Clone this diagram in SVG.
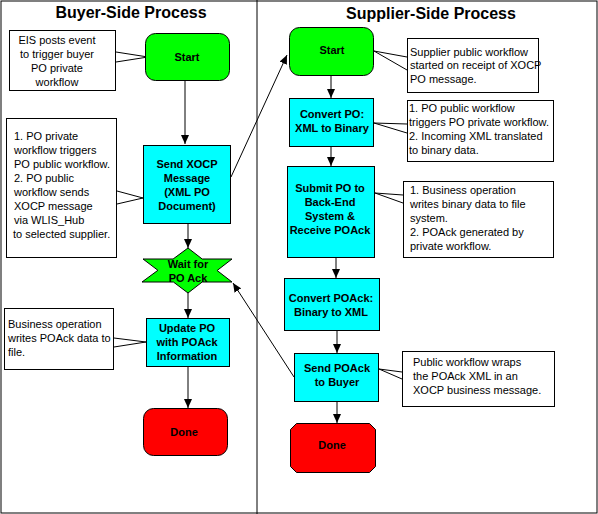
<svg xmlns="http://www.w3.org/2000/svg" width="598" height="514" viewBox="0 0 598 514">
<style>
.t{font-family:"Liberation Sans",Arial,sans-serif;font-size:16px;font-weight:bold;text-anchor:middle;fill:#000}
.b{font-family:"Liberation Sans",Arial,sans-serif;font-size:11px;font-weight:bold;text-anchor:middle;fill:#000}
.n{font-family:"Liberation Sans",Arial,sans-serif;font-size:11px;fill:#000}
.nc{font-family:"Liberation Sans",Arial,sans-serif;font-size:11px;fill:#000;text-anchor:middle}
.box{fill:#fff;stroke:#000;stroke-width:1}
.g{fill:#00ff00;stroke:#000;stroke-width:1}
.c{fill:#00ffff;stroke:#000;stroke-width:1}
.r{fill:#ff0000;stroke:#000;stroke-width:1}
.ln{fill:none;stroke:#000;stroke-width:1}
.ar{fill:none;stroke:#000;stroke-width:1;marker-end:url(#ah)}
</style>
<defs>
<marker id="ah" markerUnits="userSpaceOnUse" markerWidth="10" markerHeight="8" refX="9" refY="4" orient="auto">
<path d="M0,0 L9,4 L0,8 z" fill="#000"/>
</marker>
</defs>
<rect x="0" y="0" width="598" height="514" fill="#fff"/>
<rect x="1" y="1" width="596" height="512" class="ln"/>
<line x1="257" y1="0" x2="257" y2="514" class="ln"/>
<text class="t" x="131" y="18">Buyer-Side Process</text>
<text class="t" x="431" y="19">Supplier-Side Process</text>

<g id="connectors">
<line class="ar" x1="185" y1="81" x2="185" y2="144"/>
<line class="ar" x1="188" y1="224" x2="188" y2="248"/>
<line class="ar" x1="188" y1="293" x2="188" y2="318"/>
<line class="ar" x1="188" y1="367" x2="188" y2="408"/>
<line class="ar" x1="231" y1="177" x2="287" y2="55"/>
<line class="ar" x1="331" y1="76" x2="331" y2="98"/>
<line class="ar" x1="331" y1="146" x2="331" y2="166"/>
<line class="ar" x1="336" y1="257" x2="336" y2="278"/>
<line class="ar" x1="337" y1="330" x2="337" y2="353"/>
<line class="ar" x1="337" y1="401" x2="337" y2="423"/>
<line class="ar" x1="294" y1="377" x2="233" y2="283"/>
</g>

<g id="note-eis">
<rect class="box" x="9.5" y="30.5" width="106" height="60"/>
<polyline class="ln" points="116,52 148,57 116,62"/>
<text class="nc" x="57" y="44">EIS posts event</text>
<text class="nc" x="57" y="58">to trigger buyer</text>
<text class="nc" x="57" y="72">PO private</text>
<text class="nc" x="57" y="86">workflow</text>
</g>

<g id="buyer-start">
<rect class="g" x="145.5" y="33.5" width="84" height="47" rx="10"/>
<text class="b" x="187" y="61">Start</text>
</g>

<g id="note-send">
<rect class="box" x="6.5" y="118.5" width="110" height="139"/>
<polyline class="ln" points="117,191 143,198 117,204"/>
<text class="n" x="14" y="140">1. PO private</text>
<text class="n" x="14" y="154">workflow triggers</text>
<text class="n" x="14" y="168">PO public workflow.</text>
<text class="n" x="14" y="182">2. PO public</text>
<text class="n" x="14" y="196">workflow sends</text>
<text class="n" x="14" y="210">XOCP message</text>
<text class="n" x="14" y="224">via WLIS_Hub</text>
<text class="n" x="13" y="238">to selected supplier.</text>
</g>

<g id="send-xocp">
<rect class="c" x="143.5" y="145.5" width="87" height="78"/>
<text class="b" x="187" y="168">Send XOCP</text>
<text class="b" x="187" y="182">Message</text>
<text class="b" x="187" y="196">(XML PO</text>
<text class="b" x="187" y="210">Document)</text>
</g>

<g id="wait">
<polygon class="g" points="188,248 173.1,259 143,259 157.9,270.3 142,282 173.4,282 188,293 202.2,282 232,282 217.1,270.5 232,259 202.2,259"/>
<text class="b" x="188" y="268">Wait for</text>
<text class="b" x="188" y="282">PO Ack</text>
</g>

<g id="note-update">
<rect class="box" x="4.5" y="308.5" width="109" height="61"/>
<polyline class="ln" points="114,338 146,342 114,347"/>
<text class="n" x="8" y="328">Business operation</text>
<text class="n" x="8" y="342">writes POAck data to</text>
<text class="n" x="8" y="356">file.</text>
</g>

<g id="update-po">
<rect class="c" x="146.5" y="318.5" width="83" height="48"/>
<text class="b" x="187" y="332">Update PO</text>
<text class="b" x="187" y="346">with POAck</text>
<text class="b" x="187" y="360">Information</text>
</g>

<g id="buyer-done">
<rect class="r" x="143.5" y="408.5" width="84" height="47" rx="10"/>
<text class="b" x="184" y="436">Done</text>
</g>

<g id="supplier-start">
<rect class="g" x="289.5" y="27.5" width="84" height="48" rx="10"/>
<text class="b" x="332" y="54">Start</text>
</g>

<g id="note-sstart">
<rect class="box" x="407.5" y="38.5" width="131" height="54"/>
<polyline class="ln" points="407,57 374,51 407,70"/>
<text class="n" x="410" y="56">Supplier public workflow</text>
<text class="n" x="410" y="69">started on receipt of XOCP</text>
<text class="n" x="410" y="83">PO message.</text>
</g>

<g id="convert-po">
<rect class="c" x="289.5" y="98.5" width="84" height="48"/>
<text class="b" x="332" y="118">Convert PO:</text>
<text class="b" x="332" y="132">XML to Binary</text>
</g>

<g id="note-convert">
<rect class="box" x="407.5" y="100.5" width="146" height="61"/>
<polyline class="ln" points="407,124 374,123 407,133"/>
<text class="n" x="409" y="112">1. PO public workflow</text>
<text class="n" x="409" y="126">triggers PO private workflow.</text>
<text class="n" x="409" y="140">2. Incoming XML translated</text>
<text class="n" x="409" y="154">to binary data.</text>
</g>

<g id="submit-po">
<rect class="c" x="287.5" y="166.5" width="87" height="91"/>
<text class="b" x="330" y="192">Submit PO to</text>
<text class="b" x="330" y="206">Back-End</text>
<text class="b" x="330" y="220">System &amp;</text>
<text class="b" x="330" y="234">Receive POAck</text>
</g>

<g id="note-submit">
<rect class="box" x="403.5" y="181.5" width="150" height="76"/>
<polyline class="ln" points="403,195 375,193 403,203"/>
<text class="n" x="410" y="194">1. Business operation</text>
<text class="n" x="410" y="208">writes binary data to file</text>
<text class="n" x="410" y="222">system.</text>
<text class="n" x="410" y="236">2. POAck generated by</text>
<text class="n" x="410" y="250">private workflow.</text>
</g>

<g id="convert-poack">
<rect class="c" x="284.5" y="278.5" width="95" height="52"/>
<text class="b" x="331" y="302">Convert POAck:</text>
<text class="b" x="331" y="316">Binary to XML</text>
</g>

<g id="send-poack">
<rect class="c" x="294.5" y="353.5" width="84" height="48"/>
<text class="b" x="337" y="372">Send POAck</text>
<text class="b" x="337" y="386">to Buyer</text>
</g>

<g id="note-sendpoack">
<rect class="box" x="402.5" y="351.5" width="152" height="55"/>
<polyline class="ln" points="402,372 379,369 402,379"/>
<text class="n" x="413" y="366">Public workflow wraps</text>
<text class="n" x="413" y="380">the POAck XML in an</text>
<text class="n" x="413" y="394">XOCP business message.</text>
</g>

<g id="supplier-done">
<polygon class="r" points="296.5,423.5 369.5,423.5 375.5,429.5 375.5,466.5 369.5,472.5 296.5,472.5 290.5,466.5 290.5,429.5"/>
<text class="b" x="332" y="449">Done</text>
</g>
</svg>
